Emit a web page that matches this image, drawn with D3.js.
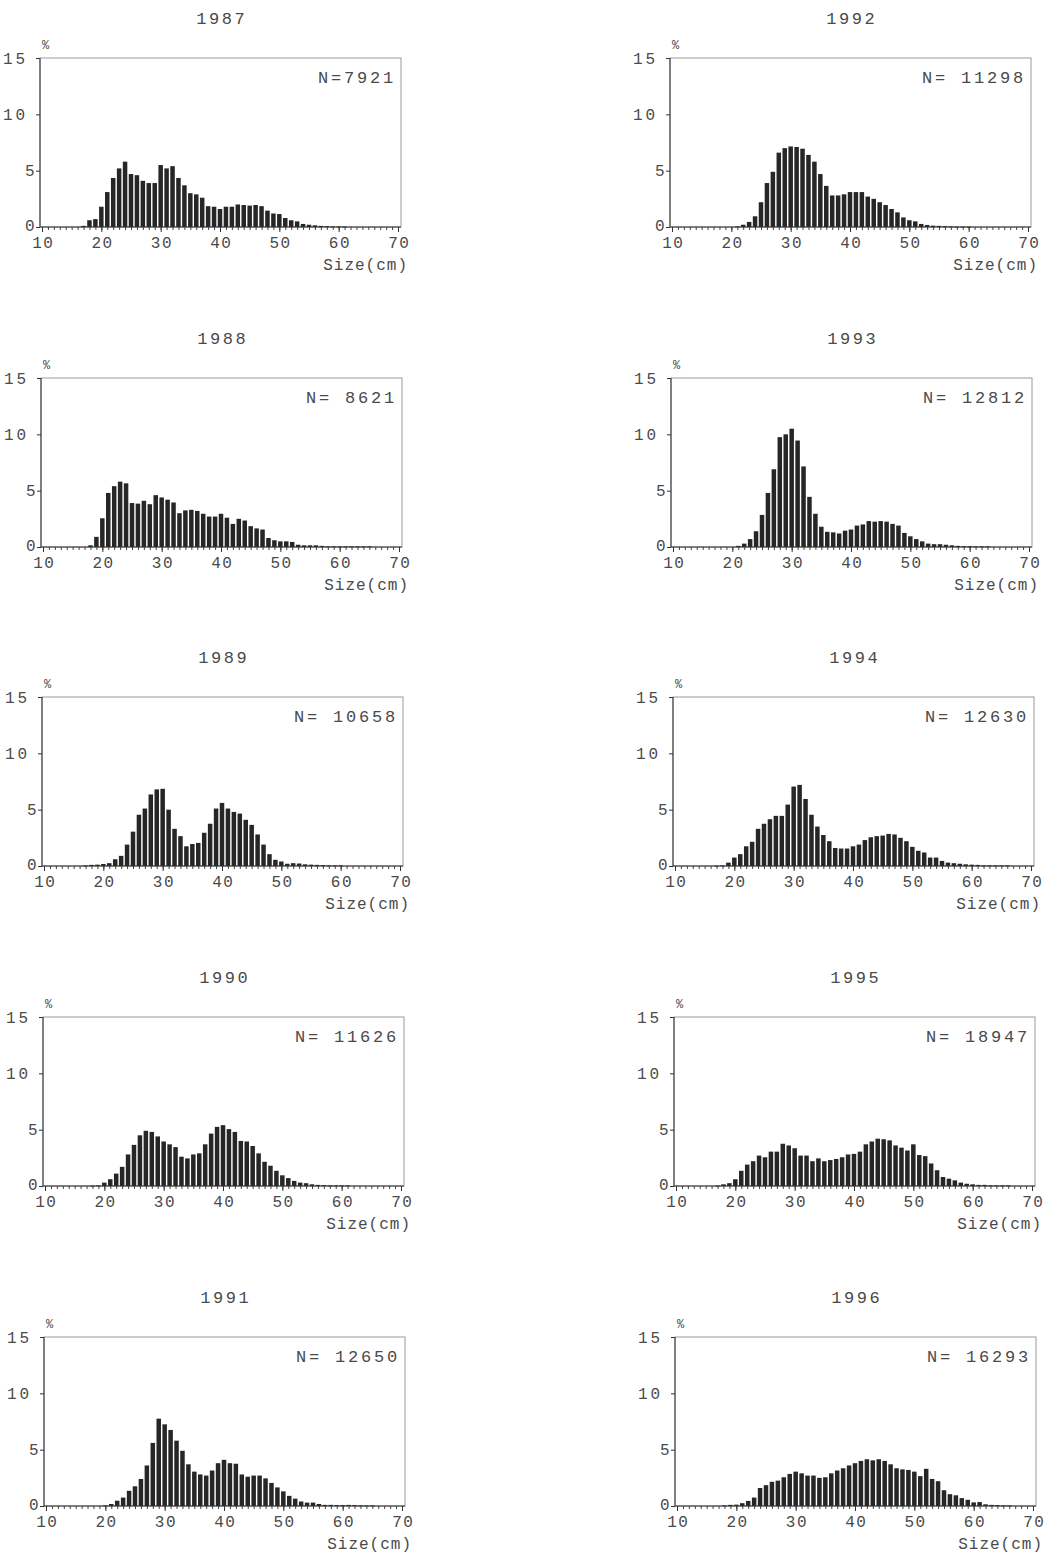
<!DOCTYPE html>
<html><head><meta charset="utf-8">
<script src="https://cdn.jsdelivr.net/npm/d3@7"></script>
<style>
body{margin:0;background:#fff}
svg text{font-family:"Liberation Mono","DejaVu Sans Mono",monospace;fill:#4a4a4a}
</style></head><body>
<svg id="chart" width="1046" height="1555"></svg>
<script>
// ---- data ----
const years = ["1987","1988","1989","1990","1991","1992","1993","1994","1995","1996"];
const sampleSizes = ["N=7921","N= 8621","N= 10658","N= 11626","N= 12650","N= 11298","N= 12812","N= 12630","N= 18947","N= 16293"];
const sizes = [15,16,17,18,19,20,21,22,23,24,25,26,27,28,29,30,31,32,33,34,35,36,37,38,39,40,
               41,42,43,44,45,46,47,48,49,50,51,52,53,54,55,56,57,58,59,60,61,62,63,64,65,66];
const xTickLabels = [10,20,30,40,50,60,70];
const yTickLabels = [0,5,10,15];

const pct1987 = [0,0,0.1,0.6,0.7,1.8, 3.1,4.35,5.2,5.8,4.7,4.6,4.1,3.9,3.9,5.5, 5.2,5.4,4.35,3.7,3.0,2.9,2.6,1.85,1.8,1.6,
  1.8,1.8,2.0,1.95,1.9,1.95,1.85,1.45,1.2,1.15, 0.8,0.6,0.5,0.27,0.2,0.15,0.1,0.08,0.05,0.05, 0.03,0,0,0,0,0];
const pct1988 = [0,0,0,0.15,0.9,2.55, 4.8,5.4,5.8,5.65,3.9,3.85,4.1,3.8,4.6,4.4, 4.2,3.95,3.0,3.25,3.3,3.2,2.95,2.7,2.7,2.95,
  2.6,2.05,2.5,2.35,1.85,1.65,1.55,0.8,0.6,0.5, 0.5,0.45,0.2,0.15,0.15,0.15,0.1,0.05,0.05,0.05, 0.05,0.05,0.05,0.05,0.05,0];
const pct1989 = [0,0,0.05,0.1,0.12,0.18, 0.25,0.6,0.9,1.9,3.05,4.55,5.1,6.35,6.8,6.85, 5.0,3.3,2.65,1.75,1.95,2.05,2.95,3.75,5.1,5.6,
  5.1,4.8,4.65,4.1,3.65,2.8,1.9,1.05,0.55,0.4, 0.2,0.25,0.22,0.15,0.12,0.1,0.08,0.05,0.05,0.05, 0,0,0,0,0,0];
const pct1990 = [0,0,0,0.03,0.05,0.3, 0.6,1.1,1.7,2.8,3.65,4.5,4.9,4.8,4.4,3.95, 3.7,3.45,2.6,2.45,2.8,2.9,3.7,4.65,5.25,5.4,
  5.05,4.8,4.0,3.95,3.55,2.9,2.15,1.8,1.35,0.95, 0.7,0.45,0.3,0.25,0.15,0.1,0.08,0.05,0.05,0.05, 0.05,0,0,0,0,0];
const pct1991 = [0,0,0,0,0,0.05, 0.18,0.47,0.75,1.35,1.75,2.4,3.6,5.6,7.75,7.25, 6.75,5.8,4.9,3.7,3.05,2.8,2.7,3.15,3.8,4.1,
  3.8,3.75,2.8,2.6,2.7,2.7,2.45,2.05,1.65,1.3, 0.9,0.65,0.4,0.3,0.3,0.18,0.1,0.1,0.08,0.08, 0.1,0.08,0.05,0.05,0.05,0];
const pct1992 = [0,0,0,0,0,0, 0.05,0.2,0.45,0.95,2.2,3.9,4.9,6.6,7.0,7.15, 7.1,6.95,6.4,5.8,4.7,3.65,2.8,2.8,2.9,3.1,
  3.1,3.1,2.7,2.5,2.2,1.95,1.6,1.3,0.85,0.6, 0.5,0.27,0.18,0.12,0.1,0.08,0.05,0.03,0.03,0.03, 0,0,0,0,0,0];
const pct1993 = [0,0,0,0,0,0, 0.1,0.3,0.7,1.4,2.85,4.8,6.9,9.75,10.0,10.5, 9.45,7.15,4.45,2.95,1.8,1.35,1.3,1.2,1.45,1.55,
  1.9,2.0,2.3,2.25,2.3,2.25,2.05,1.9,1.25,0.95, 0.7,0.5,0.3,0.25,0.25,0.2,0.15,0.1,0.08,0.08, 0.05,0.05,0.05,0,0,0];
const pct1994 = [0,0,0.03,0.05,0.3,0.75, 1.05,1.75,2.15,3.3,3.75,4.15,4.45,4.45,5.45,7.05, 7.2,5.95,4.55,3.5,2.75,2.2,1.6,1.55,1.55,1.75,
  1.9,2.3,2.55,2.65,2.7,2.85,2.8,2.5,2.2,1.7, 1.35,1.2,0.75,0.75,0.45,0.3,0.25,0.2,0.15,0.12, 0.1,0.05,0.05,0.05,0.05,0.05];
const pct1995 = [0,0,0.03,0.15,0.25,0.6, 1.35,1.9,2.2,2.7,2.55,3.05,3.05,3.75,3.6,3.35, 2.7,2.7,2.2,2.45,2.2,2.3,2.4,2.55,2.8,2.85,
  3.05,3.7,3.95,4.2,4.15,4.05,3.6,3.4,3.15,3.7, 2.75,2.65,2.0,1.4,0.8,0.65,0.5,0.3,0.2,0.15, 0.1,0.1,0.05,0.05,0.05,0.05];
const pct1996 = [0,0,0,0.05,0.1,0.12, 0.25,0.45,0.75,1.6,1.85,2.15,2.25,2.55,2.85,3.05, 2.9,2.7,2.7,2.5,2.55,2.9,3.15,3.35,3.6,3.8,
  4.0,4.15,4.05,4.15,4.0,3.7,3.35,3.25,3.2,3.05, 2.65,3.3,2.4,2.2,1.4,1.05,0.95,0.7,0.55,0.32, 0.35,0.15,0.1,0.08,0.05,0.05];
const series = [pct1987,pct1988,pct1989,pct1990,pct1991,pct1992,pct1993,pct1994,pct1995,pct1996];

// ---- layout (not data) ----
const panelLeft = [40,41,42,43,44, 670,671,673,674,675];
const panelTop  = [58,378,697,1017,1337, 58,378,697,1017,1337];
const W = 361, H = 169;

const svg = d3.select("#chart");
svg.append("rect").attr("width",1046).attr("height",1555).attr("fill","#fff");

years.forEach((yr, i) => {
  const x0 = panelLeft[i], t = panelTop[i];
  const g = svg.append("g").attr("transform", `translate(${x0},${t})`);
  const x = d3.scaleLinear().domain([10,70]).range([2, 358]);
  const y = d3.scaleLinear().domain([0,15]).range([H, 0]);

  // frame
  g.append("rect").attr("x",0).attr("y",0).attr("width",W).attr("height",H)
    .attr("fill","none").attr("stroke","#9a9a9a").attr("stroke-width",1);

  // bars
  const data = sizes.map((s,k)=>({s, v: series[i][k]})).filter(d=>d.v>0);
  g.selectAll("rect.bar").data(data).enter().append("rect").attr("class","bar")
    .attr("x", d => x(d.s) - 2.25).attr("width", 4.5)
    .attr("y", d => y(d.v)).attr("height", d => Math.max(0.8, H - y(d.v)))
    .attr("fill","#262626");

  // x axis minor ticks
  const minor = g.append("g").attr("transform",`translate(0,${H})`)
    .call(d3.axisBottom(x).tickValues(d3.range(10,71)).tickSize(3).tickFormat(""));
  minor.select(".domain").remove();
  minor.selectAll("line").attr("stroke","#444");
  // x axis major ticks + labels
  const xa = g.append("g").attr("transform",`translate(0,${H})`)
    .call(d3.axisBottom(x).tickValues(xTickLabels).tickSize(5).tickPadding(5));
  xa.select(".domain").attr("stroke","#333").attr("d",`M0,0H${W}`);
  xa.selectAll("line").attr("stroke","#333");
  xa.selectAll("text").style("font-size","16px").style("letter-spacing","1.5px")
    .attr("dx","0.75px").attr("fill","#4a4a4a");

  // y axis
  const ya = g.append("g").call(d3.axisLeft(y).tickValues(yTickLabels).tickSize(4).tickFormat(""));
  ya.select(".domain").attr("stroke","#333").attr("d",`M0,0V${H}`);
  ya.selectAll("line").attr("stroke","#333");
  g.selectAll("text.ylab").data(yTickLabels).enter().append("text").attr("class","ylab")
    .attr("x", d => d >= 10 ? -37 : -15).attr("y", d => d === 0 ? y(d) - 2 : y(d)).attr("dy","0.36em")
    .style("font-size","16px").style("letter-spacing","3px").text(d=>d);

  // % label
  g.append("text").attr("x",2).attr("y",-9).style("font-size","12px").text("%");

  // title
  g.append("text").attr("x", W/2 + 1.3).attr("y", -34).attr("text-anchor","middle")
    .style("font-size","17px").style("letter-spacing","2.6px").text(yr);

  // N label
  g.append("text").attr("x", 356).attr("y", 25).attr("text-anchor","end")
    .style("font-size","17px").style("letter-spacing","2.8px").text(sampleSizes[i]);

  // axis title
  g.append("text").attr("x", W + 7).attr("y", H + 43).attr("text-anchor","end")
    .style("font-size","16px").style("letter-spacing","1px").text("Size(cm)");
});
</script>
</body></html>
